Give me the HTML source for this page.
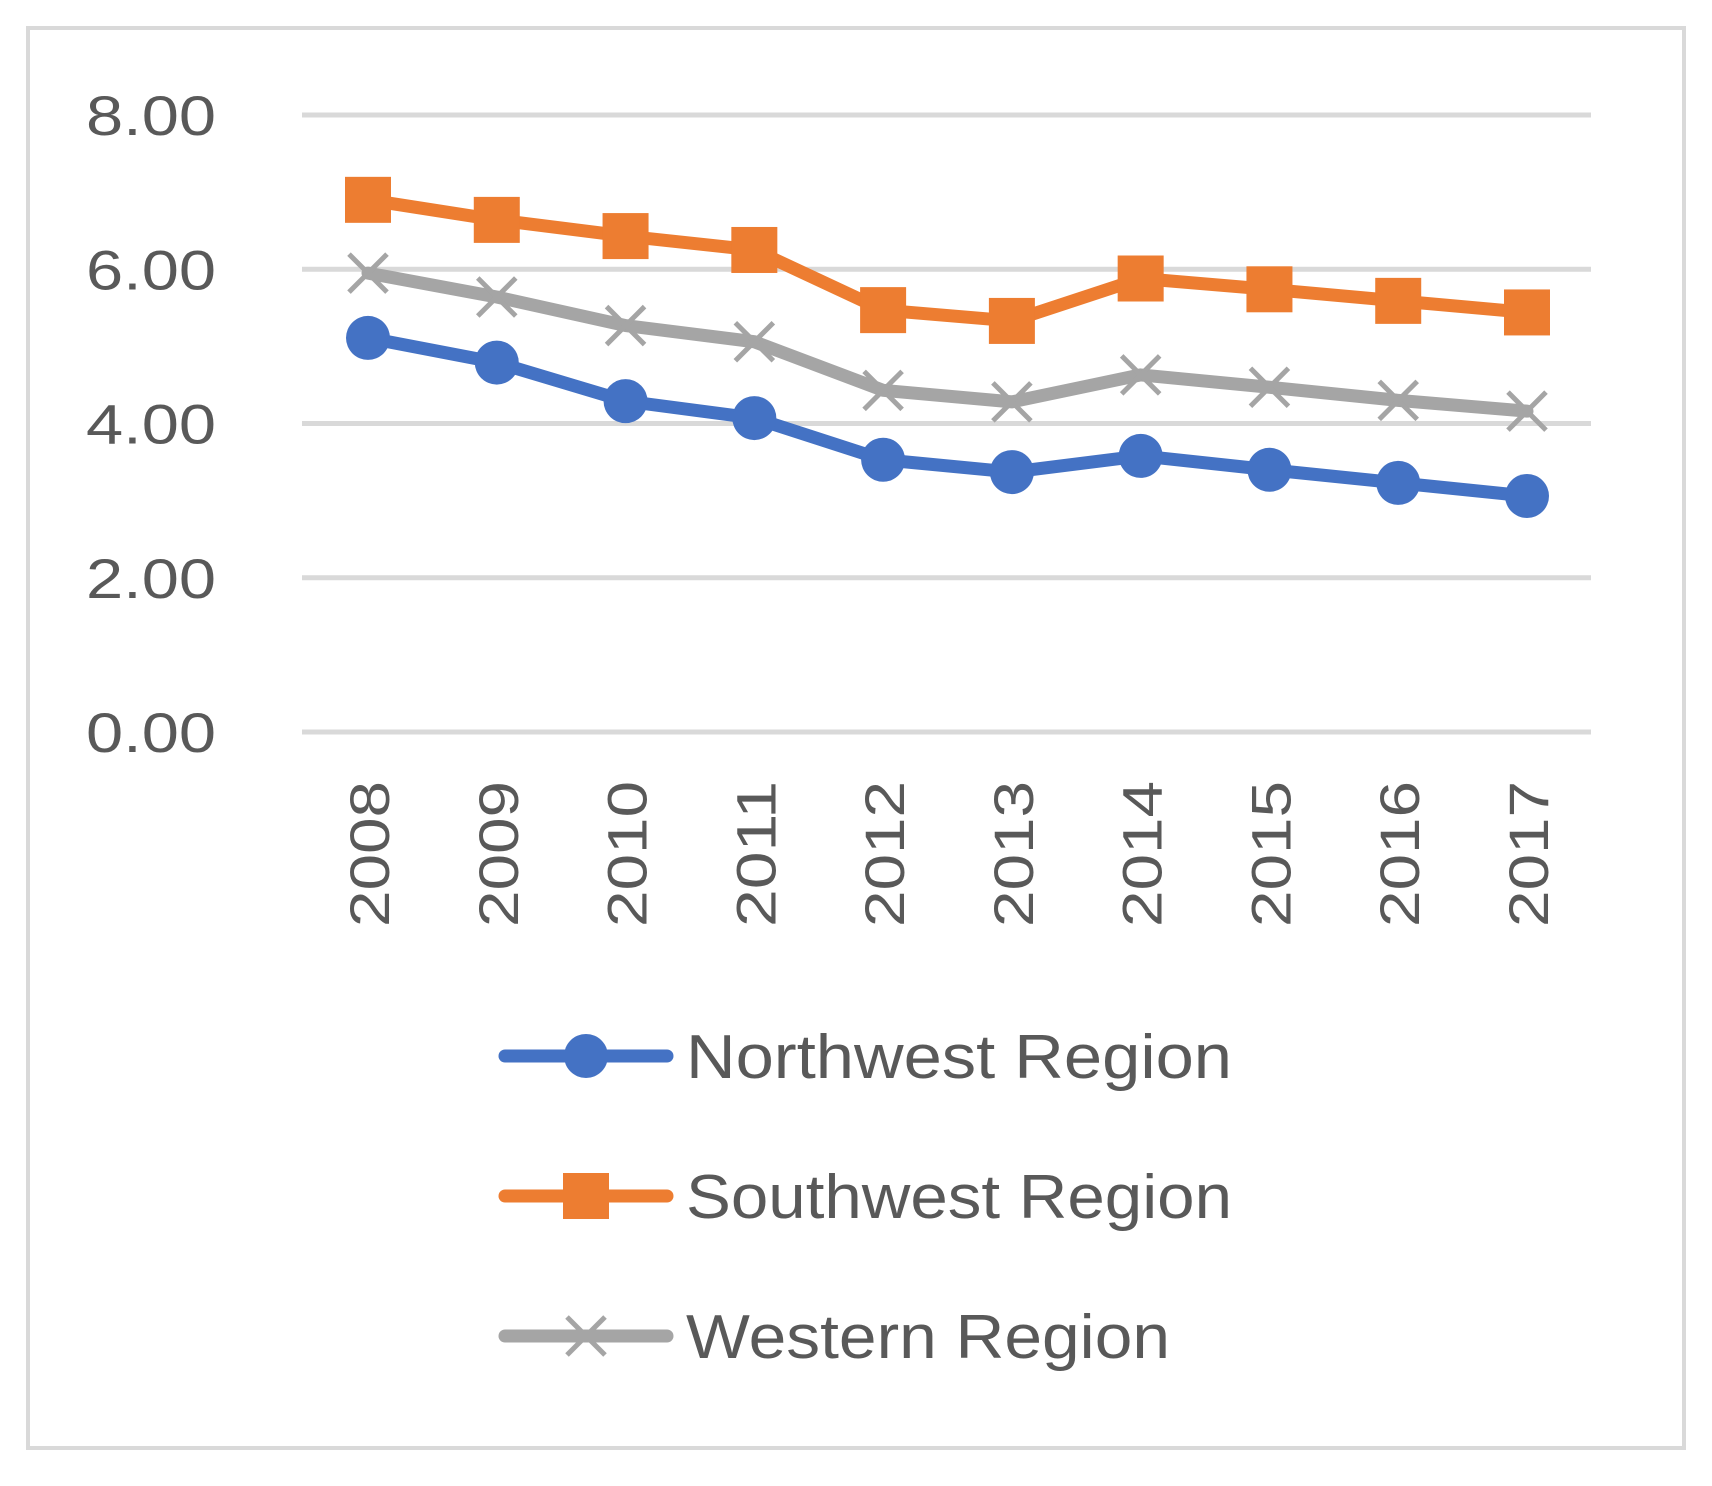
<!DOCTYPE html>
<html><head><meta charset="utf-8"><style>
html,body{margin:0;padding:0;background:#fff;}
svg{display:block;}
text{font-family:"Liberation Sans",sans-serif;fill:#595959;}
</style></head><body>
<svg id="chart" width="1712" height="1486" xmlns="http://www.w3.org/2000/svg">
<rect x="28" y="28" width="1656" height="1420" fill="#fff" stroke="#d9d9d9" stroke-width="4"/>
<g id="grid"></g><g id="ylabels"></g><g id="xlabels"></g><g id="series"></g><g id="legend"></g>
</svg>
<script>
const categories=["2008","2009","2010","2011","2012","2013","2014","2015","2016","2017"];
const northwest=[5.11,4.79,4.29,4.07,3.53,3.37,3.58,3.40,3.23,3.06];
const southwest=[6.90,6.64,6.43,6.25,5.47,5.33,5.88,5.74,5.59,5.44];
const western=[5.95,5.64,5.27,5.06,4.43,4.28,4.63,4.47,4.30,4.16];
const yTicks=[0,2,4,6,8];
const seriesNames=["Northwest Region","Southwest Region","Western Region"];
const NS="http://www.w3.org/2000/svg";
const x0=368,x1=1527,yBase=732,yTop=115,gx0=302,gx1=1591;
const xs=i=>x0+i*(x1-x0)/(categories.length-1);
const ys=v=>yBase-(v/8)*(yBase-yTop);
function mk(tag,attrs,parent){const e=document.createElementNS(NS,tag);for(const k in attrs)e.setAttribute(k,attrs[k]);document.getElementById(parent).appendChild(e);return e;}
yTicks.forEach(t=>{
 const l=mk('line',{x1:gx0,x2:gx1,y1:ys(t),y2:ys(t),stroke:'#d9d9d9','stroke-width':5},'grid');
 
 
 const tx=mk('text',{x:86,y:ys(t)+20,'font-size':56,textLength:130,lengthAdjust:'spacingAndGlyphs'},'ylabels');
 tx.textContent=t.toFixed(2);
 
 
});
categories.forEach((c,i)=>{
 const tx=mk('text',{x:0,y:0,'font-size':56,textLength:146,lengthAdjust:'spacingAndGlyphs',transform:`translate(${xs(i)+21},927) rotate(-90)`},'xlabels');
 tx.textContent=c;
 
 
});
const colors=["#4472c4","#ed7d31","#a5a5a5"];
const data=[northwest,southwest,western];
function marker(kind,cx,cy,color,parent){
 let m;
 if(kind===0)m=mk('circle',{cx:cx,cy:cy,r:22,fill:color},parent);
 else if(kind===1)m=mk('rect',{x:cx-23,y:cy-23,width:46,height:46,fill:color},parent);
 else m=mk('path',{d:`M${cx-19},${cy-19}L${cx+19},${cy+19}M${cx-19},${cy+19}L${cx+19},${cy-19}`,stroke:color,'stroke-width':5,fill:'none'},parent);
 return m;
}
data.forEach((vals,s)=>{
 const p=mk('polyline',{points:vals.map((v,i)=>xs(i)+','+ys(v)).join(' '),fill:'none',stroke:colors[s],'stroke-width':13,'stroke-linejoin':'round','stroke-linecap':'round'},'series');
 
 
 vals.forEach((v,i)=>{
  const m=marker(s,xs(i),ys(v),colors[s],'series');
  
  
 });
});
const legY=[1056,1196,1336];
const legW=[546,546,484];
seriesNames.forEach((n,s)=>{
 const l=mk('line',{x1:505,x2:667,y1:legY[s],y2:legY[s],stroke:colors[s],'stroke-width':13,'stroke-linecap':'round'},'legend');
 
 
 const m=marker(s,586,legY[s],colors[s],'legend');
 
 
 const t=mk('text',{x:686,y:legY[s]+22,'font-size':62,textLength:legW[s],lengthAdjust:'spacingAndGlyphs'},'legend');
 t.textContent=n;
 
 
});
</script>
</body></html>
